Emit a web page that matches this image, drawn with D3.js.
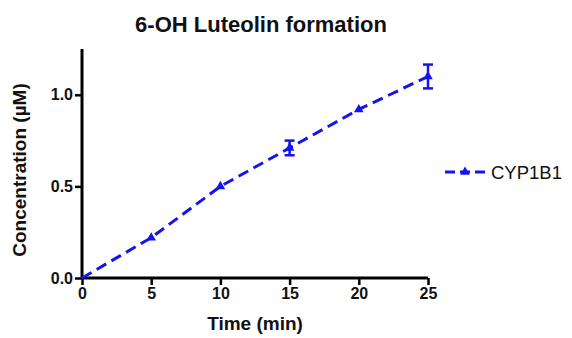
<!DOCTYPE html>
<html>
<head>
<meta charset="utf-8">
<script src="https://cdn.jsdelivr.net/npm/d3@7"></script>
<style>
  body { margin: 0; background: #fff; }
  text { font-family: "Liberation Sans", Arial, sans-serif; }
</style>
</head>
<body>
<svg id="chart" width="572" height="338"></svg>
<script>
// Data
const times = [0, 5, 10, 15, 20, 25];
const conc = [0, 0.22, 0.50, 0.71, 0.92, 1.10];
const errs = [0, 0.005, 0.01, 0.04, 0.01, 0.065];
const xTicks = [0, 5, 10, 15, 20, 25];
const yTicks = [0, 0.5, 1.0];
const seriesName = 'CYP1B1';

const blue = '#1414f0';
const svg = d3.select('#chart');

const x = d3.scaleLinear().domain([0, 25]).range([82, 428]);
const y = d3.scaleLinear().domain([0, 1.25]).range([278, 49]);

// axes
const xAxis = svg.append('g')
  .attr('transform', 'translate(0,' + y(0) + ')')
  .call(d3.axisBottom(x).tickValues(xTicks).tickSize(7).tickPadding(3).tickFormat(d3.format('d')));
const yAxis = svg.append('g')
  .attr('transform', 'translate(' + x(0) + ',0)')
  .call(d3.axisLeft(y).tickValues(yTicks).tickSize(7).tickPadding(2).tickFormat(d3.format('.1f')));

[xAxis, yAxis].forEach(function(a) {
  a.select('.domain').attr('stroke', '#000').attr('stroke-width', 3)
    .attr('d', a === xAxis ? 'M' + x(0) + ',0H' + x(25) : 'M0,' + y(0) + 'V' + y(1.25));
  a.selectAll('.tick line').attr('stroke', '#000').attr('stroke-width', 2.5);
  a.selectAll('.tick text').attr('fill', '#111').attr('font-size', 16)
    .attr('font-weight', 'bold').attr('font-family', '"Liberation Sans", Arial, sans-serif');
});

// dashed line
const pts = times.map(function(t, i) { return [x(t), y(conc[i])]; });
svg.append('path')
  .attr('d', d3.line()(pts))
  .attr('fill', 'none')
  .attr('stroke', blue)
  .attr('stroke-width', 3)
  .attr('stroke-dasharray', '11,6');

// error bars
times.forEach(function(t, i) {
  if (errs[i] < 0.02) return;
  const cx = x(t), y1 = y(conc[i] + errs[i]), y2 = y(conc[i] - errs[i]);
  const g = svg.append('g').attr('stroke', blue).attr('stroke-width', 2.5);
  g.append('line').attr('x1', cx).attr('x2', cx).attr('y1', y1).attr('y2', y2);
  g.append('line').attr('x1', cx - 5).attr('x2', cx + 5).attr('y1', y1).attr('y2', y1);
  g.append('line').attr('x1', cx - 5).attr('x2', cx + 5).attr('y1', y2).attr('y2', y2);
});

// triangle markers
const tri = d3.symbol().type(d3.symbolTriangle).size(40);
svg.selectAll('.pt')
  .data(times.slice(1))
  .enter()
  .append('path')
  .attr('d', tri)
  .attr('transform', function(t, i) { return 'translate(' + x(t) + ',' + y(conc[i + 1]) + ')'; })
  .attr('fill', blue);

// title and axis labels
svg.append('text').attr('x', 261).attr('y', 32).attr('text-anchor', 'middle')
  .attr('font-size', 22).attr('font-weight', 'bold').attr('fill', '#111').text('6-OH Luteolin formation');
svg.append('text').attr('x', 255).attr('y', 330).attr('text-anchor', 'middle')
  .attr('font-size', 19).attr('font-weight', 'bold').attr('fill', '#111').text('Time (min)');
svg.append('text').attr('transform', 'translate(26,170) rotate(-90)').attr('text-anchor', 'middle')
  .attr('font-size', 19).attr('font-weight', 'bold').attr('fill', '#111').text('Concentration (\u00b5M)');

// legend
const lg = svg.append('g').attr('transform', 'translate(445,172)');
lg.append('line').attr('x1', 0).attr('x2', 41).attr('y1', 0).attr('y2', 0)
  .attr('stroke', blue).attr('stroke-width', 3).attr('stroke-dasharray', '10,5');
lg.append('path').attr('d', tri).attr('transform', 'translate(20,0)').attr('fill', blue);
lg.append('text').attr('x', 46).attr('y', 7).attr('font-size', 18.5).attr('fill', '#111').text(seriesName);
</script>
</body>
</html>
